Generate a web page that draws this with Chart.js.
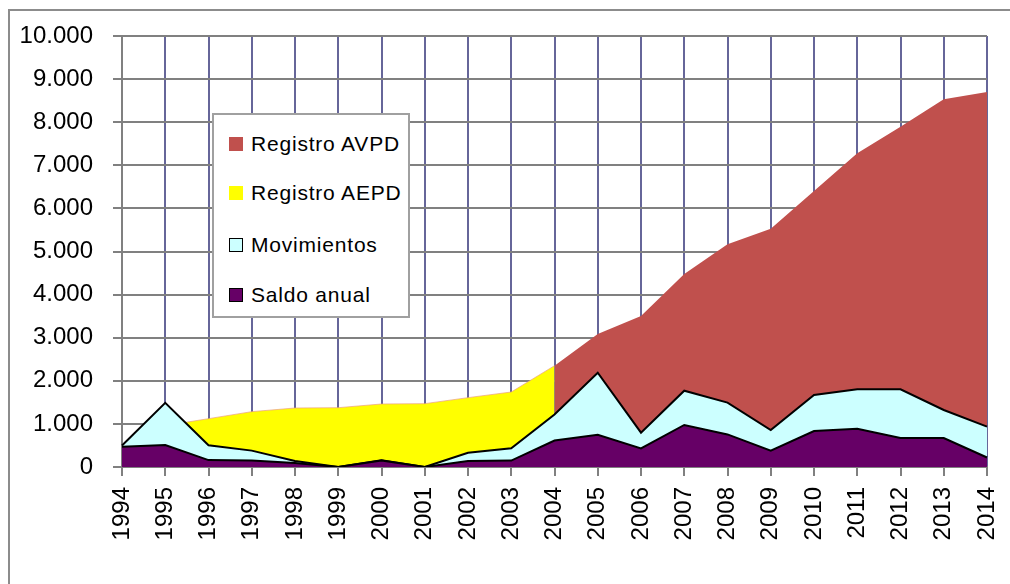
<!DOCTYPE html>
<html>
<head>
<meta charset="utf-8">
<script src="https://cdn.jsdelivr.net/npm/chart.js@4.4.1/dist/chart.umd.min.js"></script>
<style>
  html, body { margin: 0; padding: 0; background: #fff; overflow: hidden; }
  #wrap { position: relative; width: 1010px; height: 584px; overflow: hidden; }
  #frame { position: absolute; left: 8px; top: 9px; width: 1100px; height: 700px; box-sizing: border-box;
           border-left: 2px solid #8c8c8c; border-top: 2px solid #8c8c8c; }
  #chart { position: absolute; left: 0; top: 0; }
  #legend { position: absolute; left: 212px; top: 113px; width: 198px; height: 205px; box-sizing: border-box;
            border: 2px solid #a0a0a0; background: #fff; font-family: "Liberation Sans", Arial, sans-serif;
            font-size: 21px; letter-spacing: 0.8px; color: #000; }
  #legend .item { position: absolute; left: 15px; height: 24px; display: flex; align-items: center; white-space: nowrap; }
  #legend .box { width: 14px; height: 14px; margin-right: 8px; box-sizing: border-box; }
</style>
</head>
<body>
<div id="wrap">
  <div id="frame"></div>
  <canvas id="chart" width="1010" height="584"></canvas>
  <div id="legend"></div>
</div>
<script>
"use strict";
// Registros y movimientos por año, 1994–2014.

const YEARS = ["1994", "1995", "1996", "1997", "1998", "1999", "2000", "2001", "2002", "2003", "2004",
  "2005", "2006", "2007", "2008", "2009", "2010", "2011", "2012", "2013", "2014"];

const REGISTRO_AVPD = [null, null, null, null, null, null, null, null, null, null, 2350,
  3086, 3503, 4478, 5167, 5530, 6404, 7278, 7896, 8531, 8701];
const REGISTRO_AEPD = [null, 960, 1121, 1284, 1369, 1376, 1462, 1469, 1609, 1740, 2350,
  null, null, null, null, null, null, null, null, null, null];
const MOVIMIENTOS = [500, 1490, 503, 380, 140, 0, 155, 0, 332, 433, 1220,
  2188, 796, 1771, 1493, 858, 1670, 1802, 1802, 1322, 936];
const SALDO_ANUAL = [470, 510, 160, 150, 90, 0, 150, 0, 140, 150, 615,
  750, 433, 975, 756, 379, 835, 889, 673, 673, 220];

const Y_MAX = 10000;
const Y_STEP = 1000;

const FONT = "Liberation Sans, Arial, sans-serif";
const thousands = (v) => String(v).replace(/\B(?=(\d{3})+(?!\d))/g, ".");

// name, data, fill, line; order: higher = drawn further back
const SERIES = [
  { label: "Registro AVPD", data: REGISTRO_AVPD, fill: "#C0504D", line: "#C0504D", width: 0, order: 4 },
  { label: "Registro AEPD", data: REGISTRO_AEPD, fill: "#FFFF00", line: "rgba(235,160,130,0.7)", width: 1, order: 3 },
  { label: "Movimientos", data: MOVIMIENTOS, fill: "#CCFFFF", line: "#000000", width: 2, order: 2 },
  { label: "Saldo anual", data: SALDO_ANUAL, fill: "#660066", line: "#000000", width: 2, order: 1 },
];

const chart = new Chart(document.getElementById("chart"), {
  type: "line",
  data: {
    labels: YEARS,
    datasets: SERIES.map(s => ({
      label: s.label, data: s.data, order: s.order,
      backgroundColor: s.fill, borderColor: s.line, borderWidth: s.width,
      fill: "origin", pointRadius: 0, tension: 0, spanGaps: false,
    })),
  },
  options: {
    responsive: false, animation: false, devicePixelRatio: 1,
    layout: { padding: { left: 0, top: 36, right: 23, bottom: 0 } },
    plugins: { legend: { display: false }, tooltip: { enabled: false } },
    scales: {
      x: {
        offset: false,
        grid: { offset: false, lineWidth: 2, tickLength: 9,
          color: (c) => c.index === 0 ? "#808080" : "#666699", tickColor: "#808080" },
        border: { color: "#808080", width: 2 },
        ticks: { autoSkip: false, minRotation: 90, maxRotation: 90, padding: 11,
          color: "#000", font: { family: FONT, size: 24 } },
        afterFit: (s) => { s.height = 117; s.paddingLeft = 0; s.paddingRight = 0; },
      },
      y: {
        min: 0, max: Y_MAX,
        grid: { lineWidth: 2, tickLength: 9, color: "#808080", tickColor: "#808080" },
        border: { color: "#808080", width: 2 },
        ticks: { stepSize: Y_STEP, padding: 20, color: "#000", callback: thousands,
          font: { family: FONT, size: 24 } },
        afterFit: (s) => { s.width = 122; s.paddingTop = 0; s.paddingBottom = 0; },
      },
    },
  },
});

// legend box drawn as html, same series and colours as the chart
const ROW_TOPS = [17, 66, 118, 168];
const legend = document.getElementById("legend");
SERIES.forEach((s, i) => {
  const item = document.createElement("div");
  item.className = "item";
  item.style.top = ROW_TOPS[i] + "px";
  const box = document.createElement("span");
  box.className = "box";
  box.style.background = s.fill;
  if (s.line === "#000000") box.style.border = "1.5px solid #000";
  item.appendChild(box);
  item.appendChild(document.createTextNode(s.label));
  legend.appendChild(item);
});
</script>
</body>
</html>
